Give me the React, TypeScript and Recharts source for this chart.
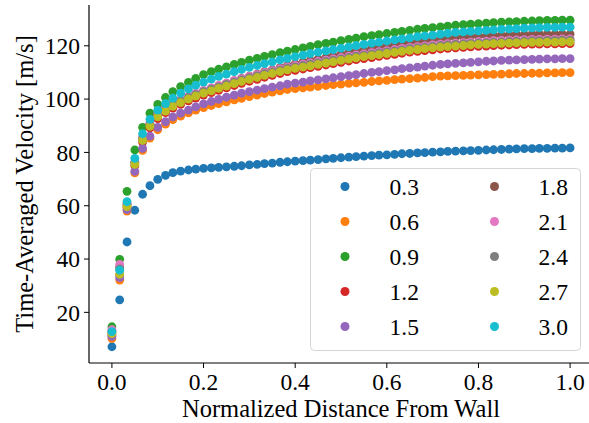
import React from "react";
import { Legend, Scatter, ScatterChart, XAxis, YAxis } from "recharts";

const FONT = "'Liberation Serif', 'Times New Roman', serif";

// normalized distance from the wall (61 stations)
const DISTANCE = [
  0, 0.017, 0.033, 0.05, 0.067, 0.083, 0.1, 0.117, 0.133, 0.15, 0.167, 0.183, 0.2, 0.217, 0.233, 0.25,
  0.267, 0.283, 0.3, 0.317, 0.333, 0.35, 0.367, 0.383, 0.4, 0.417, 0.433, 0.45, 0.467, 0.483, 0.5,
  0.517, 0.533, 0.55, 0.567, 0.583, 0.6, 0.617, 0.633, 0.65, 0.667, 0.683, 0.7, 0.717, 0.733, 0.75,
  0.767, 0.783, 0.8, 0.817, 0.833, 0.85, 0.867, 0.883, 0.9, 0.917, 0.933, 0.95, 0.967, 0.983, 1.0
];

const V_03 = [
  7.1, 24.7, 46.4, 58.3, 64.3, 67.5, 69.9, 71.4, 72.4, 73.0, 73.4, 73.7, 74.0, 74.2, 74.4, 74.6,
  74.8, 75.0, 75.3, 75.5, 75.8, 76.0, 76.3, 76.5, 76.7, 76.9, 77.1, 77.3, 77.6, 77.8, 78.0,
  78.2, 78.4, 78.6, 78.8, 79.0, 79.1, 79.3, 79.5, 79.6, 79.8, 79.9, 80.1, 80.2, 80.4, 80.5,
  80.6, 80.7, 80.8, 80.9, 81.0, 81.1, 81.2, 81.3, 81.4, 81.4, 81.5, 81.5, 81.6, 81.6, 81.7
];
const V_06 = [
  10.2, 32.1, 58.0, 72.3, 80.8, 85.4, 88.5, 90.6, 92.3, 93.6, 94.8, 95.9, 96.8, 97.6, 98.3, 99.0,
  99.7, 100.3, 100.9, 101.5, 102.1, 102.6, 103.1, 103.6, 103.9, 104.2, 104.5, 104.8, 105.1, 105.4, 105.6,
  105.9, 106.1, 106.3, 106.6, 106.8, 107.0, 107.3, 107.5, 107.7, 107.9, 108.1, 108.4, 108.6, 108.7, 108.8,
  108.9, 109.0, 109.1, 109.2, 109.3, 109.4, 109.5, 109.6, 109.6, 109.7, 109.7, 109.8, 109.8, 109.9, 109.9
];
const V_09 = [
  14.6, 39.9, 65.4, 80.9, 89.4, 94.7, 98.0, 100.6, 102.8, 104.7, 106.3, 107.8, 109.2, 110.3, 111.2, 112.1,
  113.0, 113.8, 114.6, 115.3, 116.0, 116.7, 117.4, 118.0, 118.6, 119.2, 119.8, 120.4, 120.9, 121.4, 121.9,
  122.4, 122.9, 123.4, 123.8, 124.2, 124.6, 125.0, 125.4, 125.8, 126.2, 126.5, 126.8, 127.1, 127.4, 127.7,
  127.9, 128.1, 128.3, 128.5, 128.7, 128.9, 129.0, 129.1, 129.2, 129.3, 129.4, 129.5, 129.5, 129.6, 129.6
];
const V_12 = [
  11.5, 34.0, 59.3, 75.0, 83.9, 89.2, 92.7, 94.9, 96.6, 98.0, 99.3, 100.4, 101.5, 102.4, 103.3, 104.2,
  105.1, 105.9, 106.7, 107.4, 108.2, 108.9, 109.6, 110.3, 110.8, 111.3, 111.8, 112.3, 112.8, 113.3, 113.8,
  114.3, 114.8, 115.2, 115.6, 116.0, 116.4, 116.8, 117.2, 117.6, 117.9, 118.2, 118.5, 118.8, 119.0, 119.2,
  119.4, 119.6, 119.8, 119.9, 120.1, 120.2, 120.3, 120.4, 120.5, 120.6, 120.6, 120.7, 120.7, 120.8, 120.8
];
const V_15 = [
  11.0, 33.0, 58.5, 72.9, 81.5, 86.1, 89.4, 91.5, 93.3, 94.7, 95.9, 97.1, 98.2, 99.1, 99.9, 100.7,
  101.5, 102.2, 102.8, 103.4, 103.9, 104.5, 105.0, 105.6, 106.0, 106.4, 106.8, 107.2, 107.6, 108.0, 108.4,
  108.8, 109.2, 109.6, 110.0, 110.3, 110.7, 111.0, 111.4, 111.7, 112.0, 112.4, 112.7, 113.0, 113.2, 113.4,
  113.6, 113.8, 114.0, 114.2, 114.3, 114.5, 114.6, 114.7, 114.8, 114.9, 115.0, 115.1, 115.1, 115.2, 115.2
];
const V_18 = [
  13.0, 37.0, 60.5, 76.2, 85.3, 90.6, 94.1, 96.3, 98.1, 99.5, 100.8, 102.0, 103.1, 104.0, 105.0, 105.9,
  106.9, 107.8, 108.6, 109.4, 110.3, 111.0, 111.8, 112.6, 113.2, 113.8, 114.4, 115.0, 115.6, 116.2, 116.8,
  117.4, 118.0, 118.5, 119.0, 119.4, 119.9, 120.4, 120.8, 121.3, 121.6, 122.0, 122.3, 122.7, 122.9, 123.2,
  123.4, 123.6, 123.7, 123.8, 123.9, 124.0, 124.1, 124.2, 124.2, 124.3, 124.3, 124.3, 124.4, 124.4, 124.4
];
const V_21 = [
  13.5, 38.0, 61.0, 76.5, 85.6, 90.9, 94.4, 96.6, 98.4, 99.8, 101.1, 102.2, 103.3, 104.2, 105.1, 106.0,
  106.9, 107.7, 108.5, 109.2, 110.0, 110.7, 111.4, 112.1, 112.6, 113.1, 113.6, 114.1, 114.6, 115.1, 115.6,
  116.1, 116.6, 117.0, 117.4, 117.8, 118.2, 118.6, 119.0, 119.4, 119.7, 120.0, 120.3, 120.6, 120.8, 121.0,
  121.2, 121.4, 121.6, 121.7, 121.9, 122.0, 122.1, 122.2, 122.3, 122.4, 122.4, 122.5, 122.5, 122.6, 122.6
];
const V_24 = [
  12.5, 36.3, 60.2, 76.0, 85.1, 90.4, 93.9, 96.1, 97.9, 99.3, 100.6, 101.7, 102.8, 103.7, 104.6, 105.5,
  106.4, 107.2, 108.0, 108.7, 109.5, 110.2, 110.9, 111.6, 112.1, 112.6, 113.1, 113.6, 114.1, 114.6, 115.1,
  115.6, 116.1, 116.5, 116.9, 117.3, 117.7, 118.1, 118.5, 118.9, 119.2, 119.5, 119.8, 120.1, 120.3, 120.5,
  120.7, 120.9, 121.1, 121.2, 121.4, 121.5, 121.6, 121.7, 121.8, 121.9, 121.9, 122.0, 122.0, 122.1, 122.1
];
const V_27 = [
  12.0, 34.3, 59.7, 75.5, 84.5, 89.8, 93.3, 95.5, 97.3, 98.7, 100.0, 101.1, 102.2, 103.1, 104.0, 104.9,
  105.8, 106.6, 107.4, 108.1, 108.9, 109.6, 110.3, 111.0, 111.5, 112.0, 112.5, 113.0, 113.5, 114.0, 114.5,
  115.0, 115.5, 115.9, 116.3, 116.7, 117.1, 117.5, 117.9, 118.3, 118.6, 118.9, 119.2, 119.5, 119.7, 119.9,
  120.1, 120.3, 120.5, 120.6, 120.8, 120.9, 121.0, 121.1, 121.2, 121.3, 121.3, 121.4, 121.4, 121.5, 121.5
];
const V_30 = [
  12.8, 35.8, 61.5, 77.8, 87.0, 92.4, 95.9, 98.3, 100.4, 102.2, 103.8, 105.2, 106.4, 107.5, 108.5, 109.4,
  110.3, 111.1, 111.9, 112.6, 113.3, 114.0, 114.7, 115.3, 115.9, 116.5, 117.1, 117.6, 118.1, 118.6, 119.1,
  119.6, 120.1, 120.5, 121.0, 121.4, 121.8, 122.2, 122.6, 123.0, 123.4, 123.7, 124.0, 124.4, 124.7, 125.0,
  125.2, 125.4, 125.6, 125.8, 126.0, 126.2, 126.3, 126.4, 126.6, 126.7, 126.8, 126.9, 126.9, 127.0, 127.0
];

const SERIES = [
  { name: "0.3", color: "#1f77b4", values: V_03 },
  { name: "0.6", color: "#ff7f0e", values: V_06 },
  { name: "0.9", color: "#2ca02c", values: V_09 },
  { name: "1.2", color: "#d62728", values: V_12 },
  { name: "1.5", color: "#9467bd", values: V_15 },
  { name: "1.8", color: "#8c564b", values: V_18 },
  { name: "2.1", color: "#e377c2", values: V_21 },
  { name: "2.4", color: "#7f7f7f", values: V_24 },
  { name: "2.7", color: "#bcbd22", values: V_27 },
  { name: "3.0", color: "#17becf", values: V_30 }
];

const X_TICKS = [0, 0.2, 0.4, 0.6, 0.8, 1.0];
const Y_TICKS = [20, 40, 60, 80, 100, 120];

const tickStyle = { fontSize: 23.5, fill: "#000", fontFamily: FONT };

function LegendBox() {
  return (
    <svg width={271} height={183} style={{ fontFamily: FONT }}>
      <rect x={0.5} y={0.5} width={270} height={182} rx={4} fill="#fff" fillOpacity={0.8} stroke="#d5d5d5" />
      {SERIES.map((s, k) => {
        const col = k < 5 ? 0 : 1;
        const row = k % 5;
        const cy = 18.5 + row * 35;
        return (
          <g key={s.name}>
            <circle cx={col ? 184.5 : 35} cy={cy} r={4.5} fill={s.color} />
            <text x={col ? 228.5 : 79.5} y={cy + 8} fontSize={23.5} fontFamily={FONT} fill="#000">
              {s.name}
            </text>
          </g>
        );
      })}
    </svg>
  );
}

export default function App() {
  return (
    <div
      style={{
        position: "fixed",
        left: 0,
        top: 0,
        width: 589,
        height: 423,
        overflow: "hidden",
        background: "#fff",
        fontFamily: FONT
      }}
    >
      <ScatterChart width={600} height={423} margin={{ top: 5, right: 7, bottom: 0, left: 0 }}>
        <XAxis
          xAxisId="top"
          orientation="top"
          type="number"
          dataKey="x"
          domain={[-0.05, 1.05]}
          allowDataOverflow
          tick={false}
          tickLine={false}
          height={0}
          axisLine={{ stroke: "#000", strokeWidth: 1.2 }}
        />
        <XAxis
          type="number"
          dataKey="x"
          domain={[-0.05, 1.05]}
          allowDataOverflow
          ticks={X_TICKS}
          tickFormatter={(v: number) => v.toFixed(1)}
          tick={tickStyle}
          tickSize={5}
          tickMargin={5}
          tickLine={{ stroke: "#000" }}
          axisLine={{ stroke: "#000", strokeWidth: 1.2 }}
          height={60}
          label={{
            value: "Normalized Distance From Wall",
            position: "insideBottom",
            offset: 6,
            style: { fontSize: 24.5, fill: "#000", fontFamily: FONT }
          }}
        />
        <YAxis
          type="number"
          dataKey="y"
          domain={[1.0, 135.3]}
          allowDataOverflow
          ticks={Y_TICKS}
          tick={tickStyle}
          tickSize={5}
          tickMargin={4}
          tickLine={{ stroke: "#000" }}
          axisLine={{ stroke: "#000", strokeWidth: 1.2 }}
          width={89}
          label={{
            content: (props: any) => {
              const vb = props.viewBox || { y: 5, height: 358 };
              const cy = vb.y + vb.height / 2;
              return (
                <text
                  x={33}
                  y={cy}
                  transform={`rotate(-90, 33, ${cy})`}
                  textAnchor="middle"
                  fontSize={24.5}
                  fontFamily={FONT}
                  fill="#000"
                >
                  Time-Averaged Velocity [m/s]
                </text>
              );
            }
          }}
        />
        {SERIES.map((s) => (
          <Scatter
            key={s.name}
            name={s.name}
            data={DISTANCE.map((x, i) => ({ x, y: s.values[i] }))}
            fill={s.color}
            isAnimationActive={false}
            shape={(p: any) => <circle cx={p.cx} cy={p.cy} r={4.4} fill={s.color} />}
          />
        ))}
        <Legend
          layout="vertical"
          align="center"
          verticalAlign="middle"
          content={() => <LegendBox />}
          wrapperStyle={{ position: "absolute", left: 310, top: 168, width: 271, height: 183 }}
        />
      </ScatterChart>
    </div>
  );
}
